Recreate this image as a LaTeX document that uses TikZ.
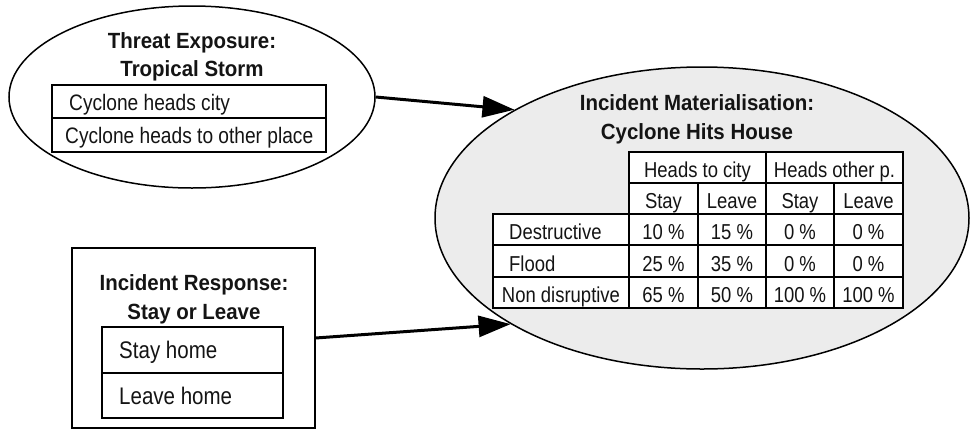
\documentclass[tikz,border=0pt]{standalone}
\usepackage{fontspec}
\setmainfont{Liberation Sans}[FakeStretch=0.855, BoldFeatures={FakeStretch=0.93}]
\usetikzlibrary{arrows.meta,shapes.geometric}
\definecolor{nodegray}{RGB}{236,236,236}
\definecolor{inkgray}{RGB}{20,20,20}
\tikzset{
  txt/.style={inner sep=0pt, text=inkgray, font=\fontsize{21.6}{25}\selectfont},
  ttl/.style={txt, anchor=base, font=\fontsize{22}{25}\selectfont\bfseries},
  lft/.style={txt, anchor=base west},
  ctr/.style={txt, anchor=base},
  bigtxt/.style={font=\fontsize{22.4}{25}\selectfont},
  itemtxt/.style={font=\fontsize{24}{27}\selectfont},
  grid/.style={line width=2pt, fill=white},
  gridline/.style={line width=2pt},
  link/.style={line width=3pt, -{Triangle[length=32pt,width=21pt]}},
}
\begin{document}
\begin{tikzpicture}[x=1pt,y=-1pt]
\useasboundingbox (0,0) rectangle (970,432);

% Threat exposure node
\node[ellipse, draw, line width=1.5pt, minimum width=366pt, minimum height=182pt, inner sep=0pt] (threat) at (192,97) {};
\node[ttl] (threatT1) at (192,48) {Threat Exposure:};
\node[ttl] (threatT2) at (192,76) {Tropical Storm};
\draw[grid] (52,85) rectangle (326,152);
\draw[gridline] (52,118) -- (326,118);
\node[lft, bigtxt] (t1) at (69,110) {Cyclone heads city};
\node[lft, bigtxt] (t2) at (65,143) {Cyclone heads to other place};

% Incident response node
\node[rectangle, draw, line width=2pt, minimum width=243pt, minimum height=180pt, inner sep=0pt] (resp) at (193,338) {};
\node[ttl] (respT1) at (194,290) {Incident Response:};
\node[ttl] (respT2) at (194,319) {Stay or Leave};
\draw[grid] (102,327) rectangle (283,418);
\draw[gridline] (102,373) -- (283,373);
\node[lft, itemtxt] (r1) at (119,358) {Stay home};
\node[lft, itemtxt] (r2) at (119,404) {Leave home};

% Incident materialisation node
\node[ellipse, draw, line width=1.5pt, fill=nodegray, minimum width=534pt, minimum height=302pt, inner sep=0pt] (hit) at (702,218) {};
\node[ttl] (hitT1) at (697,110) {Incident Materialisation:};
\node[ttl] (hitT2) at (697,139) {Cyclone Hits House};

% conditional probability table
\draw[grid] (629,152) rectangle (903,214);
\draw[grid] (493,214) rectangle (903,308);
\draw[gridline] (629,183) -- (903,183);
\draw[gridline] (766,152) -- (766,308);
\draw[gridline] (629,214) -- (629,308);
\draw[gridline] (698,183) -- (698,308);
\draw[gridline] (834,183) -- (834,308);
\draw[gridline] (493,245) -- (903,245);
\draw[gridline] (493,277) -- (903,277);

\node[ctr] (hc) at (697.5,177) {Heads to city};
\node[ctr] (ho) at (834.5,177) {Heads other p.};
\node[ctr] (s1) at (663.5,208) {Stay};
\node[ctr] (l1) at (732,208) {Leave};
\node[ctr] (s2) at (800,208) {Stay};
\node[ctr] (l2) at (868.5,208) {Leave};

\node[lft] (rowA) at (509,239) {Destructive};
\node[lft] (rowB) at (509,271) {Flood};
\node[ctr] (rowC) at (561,302) {Non disruptive};

\node[ctr] (a1) at (663.5,239) {10 \%};
\node[ctr] (a2) at (732,239) {15 \%};
\node[ctr] (a3) at (800,239) {0 \%};
\node[ctr] (a4) at (868.5,239) {0 \%};
\node[ctr] (b1) at (663.5,271) {25 \%};
\node[ctr] (b2) at (732,271) {35 \%};
\node[ctr] (b3) at (800,271) {0 \%};
\node[ctr] (b4) at (868.5,271) {0 \%};
\node[ctr] (c1) at (663.5,302) {65 \%};
\node[ctr] (c2) at (732,302) {50 \%};
\node[ctr] (c3) at (800,302) {100 \%};
\node[ctr] (c4) at (868.5,302) {100 \%};

% influences
\draw[link] (threat.east) -- (hit.150.7);
\draw[link] (resp.east) -- (hit.209);
\end{tikzpicture}
\end{document}
